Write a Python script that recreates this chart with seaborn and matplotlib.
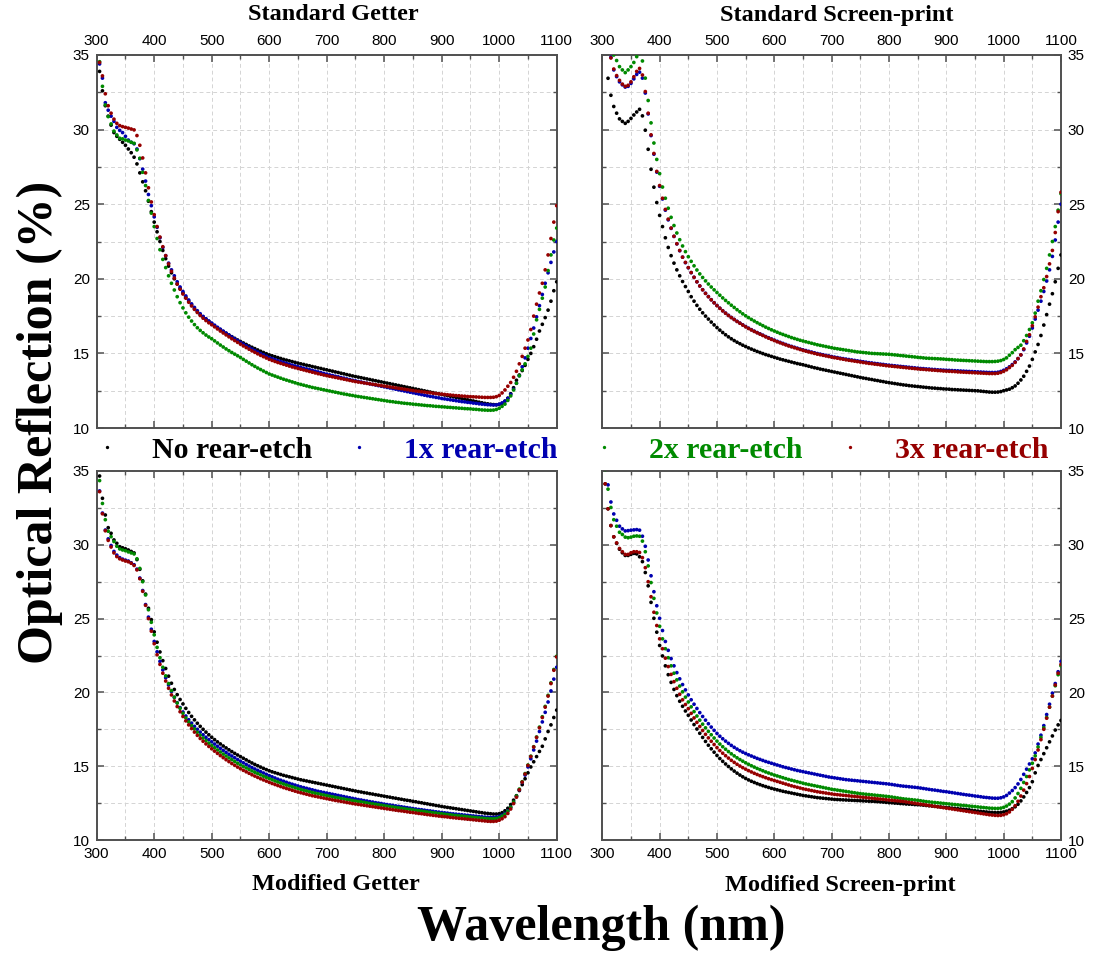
import matplotlib
matplotlib.use("Agg")
import matplotlib.pyplot as plt
import pandas as pd
import seaborn as sns
from matplotlib.ticker import MultipleLocator
from matplotlib.lines import Line2D

# ---------------- data ----------------
wavelength = list(range(305, 1101, 5))  # nm, 160 points
series_labels = ["No rear-etch", "1x rear-etch", "2x rear-etch", "3x rear-etch"]
series_colors = ["#000000", "#0000b0", "#008a00", "#960000"]
panel_titles = ["Standard Getter", "Standard Screen-print", "Modified Getter", "Modified Screen-print"]
x_ticks = [300, 400, 500, 600, 700, 800, 900, 1000, 1100]
y_ticks = [10, 15, 20, 25, 30, 35]

# Standard Getter
sg_none = [33.9, 32.6, 31.6, 30.9, 30.3, 29.8, 29.55, 29.35, 29.15, 28.95,
           28.7, 28.45, 28.15, 27.7, 27.1, 26.5, 25.9, 25.2, 24.5, 23.8,
           23.15, 22.5, 21.9, 21.35, 20.85, 20.4, 20.0, 19.65, 19.35, 19.05,
           18.75, 18.5, 18.25, 18.0, 17.8, 17.6, 17.45, 17.3, 17.15, 17.0,
           16.85, 16.72, 16.6, 16.47, 16.35, 16.23, 16.12, 16.01, 15.9, 15.8,
           15.7, 15.6, 15.5, 15.41, 15.32, 15.23, 15.14, 15.06, 14.98, 14.9,
           14.84, 14.78, 14.72, 14.66, 14.6, 14.55, 14.5, 14.45, 14.4, 14.35,
           14.3, 14.26, 14.21, 14.17, 14.12, 14.08, 14.03, 13.99, 13.94, 13.9,
           13.85, 13.81, 13.76, 13.72, 13.67, 13.63, 13.58, 13.54, 13.49, 13.45,
           13.41, 13.37, 13.33, 13.29, 13.25, 13.21, 13.17, 13.13, 13.09, 13.05,
           13.01, 12.97, 12.93, 12.89, 12.85, 12.81, 12.77, 12.73, 12.69, 12.65,
           12.61, 12.57, 12.53, 12.49, 12.45, 12.41, 12.37, 12.33, 12.29, 12.25,
           12.21, 12.17, 12.13, 12.09, 12.05, 12.01, 11.97, 11.93, 11.89, 11.85,
           11.81, 11.77, 11.73, 11.69, 11.65, 11.62, 11.59, 11.57, 11.56, 11.58,
           11.65, 11.8, 12.0, 12.3, 12.7, 13.2, 13.55, 13.85, 14.2, 14.6,
           15.0, 15.45, 15.95, 16.5, 16.95, 17.4, 17.9, 18.5, 19.2, 19.8]
sg_1x = [34.4, 33.45, 31.8, 31.3, 30.9, 30.55, 30.15, 29.95, 29.8, 29.55,
         29.3, 29.15, 29.05, 28.7, 28.05, 27.35, 26.55, 25.65, 24.9, 24.15,
         23.45, 22.75, 22.1, 21.55, 21.05, 20.6, 20.2, 19.8, 19.45, 19.15,
         18.85, 18.58, 18.32, 18.08, 17.86, 17.66, 17.48, 17.32, 17.17, 17.03,
         16.89, 16.75, 16.62, 16.49, 16.36, 16.23, 16.1, 15.98, 15.86, 15.74,
         15.62, 15.51, 15.4, 15.29, 15.19, 15.09, 14.99, 14.9, 14.81, 14.72,
         14.65, 14.58, 14.51, 14.45, 14.39, 14.33, 14.27, 14.21, 14.16, 14.11,
         14.06, 14.01, 13.96, 13.91, 13.86, 13.81, 13.76, 13.71, 13.66, 13.61,
         13.56, 13.52, 13.47, 13.43, 13.38, 13.34, 13.29, 13.25, 13.2, 13.16,
         13.12, 13.08, 13.04, 13.0, 12.96, 12.92, 12.88, 12.84, 12.8, 12.76,
         12.72, 12.68, 12.64, 12.6, 12.56, 12.52, 12.48, 12.44, 12.4, 12.36,
         12.32, 12.28, 12.24, 12.2, 12.16, 12.12, 12.09, 12.05, 12.02, 11.98,
         11.95, 11.92, 11.89, 11.86, 11.83, 11.8, 11.77, 11.75, 11.72, 11.7,
         11.67, 11.65, 11.62, 11.6, 11.58, 11.56, 11.55, 11.54, 11.55, 11.6,
         11.68, 11.8, 11.98, 12.25, 12.6, 13.0, 13.5, 14.1, 14.7, 15.35,
         16.0, 16.7, 17.45, 18.2, 18.95, 19.7, 20.4, 21.1, 21.8, 22.5]
sg_2x = [34.55, 32.9, 31.65, 30.87, 30.38, 29.9, 29.64, 29.42, 29.38, 29.3,
         29.24, 29.15, 29.08, 28.64, 28.08, 27.14, 26.25, 25.25, 24.4, 23.5,
         22.7, 21.95, 21.3, 20.75, 20.2, 19.7, 19.25, 18.8, 18.4, 18.05,
         17.72, 17.43, 17.17, 16.93, 16.72, 16.54, 16.38, 16.23, 16.1, 15.98,
         15.84, 15.7, 15.56, 15.43, 15.3, 15.18, 15.06, 14.95, 14.84, 14.73,
         14.6, 14.48, 14.36, 14.24, 14.13, 14.02, 13.92, 13.82, 13.72, 13.62,
         13.55, 13.48, 13.41, 13.34, 13.27, 13.21, 13.15, 13.09, 13.03, 12.97,
         12.92, 12.87, 12.82, 12.77, 12.72, 12.68, 12.64, 12.6, 12.56, 12.52,
         12.48, 12.44, 12.4, 12.36, 12.32, 12.28, 12.25, 12.21, 12.18, 12.14,
         12.11, 12.08, 12.05, 12.02, 11.99, 11.96, 11.93, 11.9, 11.87, 11.84,
         11.81, 11.78, 11.76, 11.73, 11.71, 11.68, 11.66, 11.64, 11.62, 11.6,
         11.58, 11.56, 11.54, 11.52, 11.5, 11.49, 11.47, 11.45, 11.44, 11.42,
         11.41, 11.39, 11.38, 11.36, 11.35, 11.33, 11.32, 11.3, 11.29, 11.28,
         11.26, 11.25, 11.23, 11.21, 11.2, 11.19, 11.19, 11.2, 11.24, 11.32,
         11.45, 11.6, 11.85, 12.15, 12.55, 13.0, 13.5, 13.9, 14.3, 14.8,
         15.35, 16.3, 17.25, 17.95, 18.7, 19.45, 20.55, 21.6, 22.6, 23.4]
sg_3x = [34.5, 33.6, 32.4, 31.6, 31.1, 30.7, 30.42, 30.27, 30.2, 30.15,
         30.1, 30.04, 29.98, 29.6, 28.95, 28.1, 27.1, 26.1, 25.15, 24.3,
         23.5, 22.8, 22.15, 21.55, 21.0, 20.5, 20.05, 19.65, 19.3, 18.98,
         18.7, 18.43, 18.18, 17.95, 17.74, 17.54, 17.36, 17.2, 17.05, 16.92,
         16.78, 16.64, 16.5, 16.37, 16.24, 16.11, 15.98, 15.86, 15.74, 15.62,
         15.5, 15.39, 15.28, 15.17, 15.07, 14.97, 14.87, 14.78, 14.69, 14.6,
         14.53, 14.46, 14.39, 14.33, 14.27, 14.21, 14.15, 14.09, 14.04, 13.99,
         13.94, 13.89, 13.84, 13.79, 13.74, 13.69, 13.64, 13.6, 13.55, 13.51,
         13.47, 13.43, 13.39, 13.35, 13.31, 13.27, 13.23, 13.19, 13.15, 13.11,
         13.08, 13.05, 13.02, 12.99, 12.96, 12.93, 12.9, 12.87, 12.84, 12.81,
         12.78, 12.75, 12.72, 12.69, 12.66, 12.63, 12.6, 12.57, 12.54, 12.51,
         12.48, 12.46, 12.43, 12.41, 12.38, 12.36, 12.33, 12.31, 12.29, 12.27,
         12.25, 12.23, 12.21, 12.19, 12.17, 12.16, 12.14, 12.13, 12.11, 12.1,
         12.09, 12.08, 12.07, 12.06, 12.05, 12.05, 12.05, 12.06, 12.1, 12.18,
         12.35, 12.55, 12.8, 13.05, 13.4, 13.8, 14.3, 14.8, 15.35, 15.9,
         16.6, 17.5, 18.3, 19.05, 19.7, 20.6, 21.6, 22.7, 23.8, 24.9]

# Standard Screen-print
ss_none = [35.3, 33.44, 32.3, 31.55, 31.1, 30.72, 30.55, 30.42, 30.55, 30.75,
           30.98, 31.18, 31.36, 30.92, 29.96, 28.68, 27.34, 26.14, 25.11, 24.25,
           23.5, 22.75, 22.1, 21.55, 21.05, 20.6, 20.2, 19.82, 19.48, 19.15,
           18.8, 18.5, 18.22, 17.96, 17.72, 17.5, 17.3, 17.1, 16.91, 16.73,
           16.56, 16.4, 16.25, 16.11, 15.98, 15.86, 15.75, 15.65, 15.55, 15.46,
           15.37, 15.29, 15.21, 15.13, 15.06, 14.99, 14.92, 14.86, 14.8, 14.74,
           14.68, 14.62, 14.57, 14.52, 14.47, 14.42, 14.37, 14.32, 14.28, 14.24,
           14.19, 14.14, 14.09, 14.04, 14.0, 13.95, 13.91, 13.87, 13.83, 13.79,
           13.75, 13.71, 13.67, 13.63, 13.59, 13.55, 13.51, 13.47, 13.43, 13.39,
           13.35, 13.32, 13.28, 13.25, 13.21, 13.18, 13.14, 13.11, 13.07, 13.04,
           13.01, 12.98, 12.95, 12.92, 12.89, 12.87, 12.84, 12.82, 12.8, 12.78,
           12.76, 12.74, 12.72, 12.7, 12.68, 12.67, 12.65, 12.64, 12.62, 12.61,
           12.6, 12.58, 12.57, 12.56, 12.55, 12.54, 12.53, 12.52, 12.51, 12.5,
           12.49, 12.47, 12.45, 12.43, 12.41, 12.4, 12.4, 12.41, 12.44, 12.5,
           12.55, 12.6, 12.7, 12.82, 13.0, 13.22, 13.47, 13.8, 14.15, 14.6,
           15.1, 15.6, 16.2, 16.9, 17.6, 18.3, 19.0, 19.8, 20.7, 21.6]
ss_1x = [36.3, 35.5, 34.85, 34.0, 33.55, 33.2, 33.0, 32.85, 32.9, 33.1,
         33.4, 33.7, 33.85, 33.45, 32.45, 31.05, 29.6, 28.35, 27.15, 26.2,
         25.35, 24.6, 23.95, 23.38, 22.84, 22.34, 21.88, 21.45, 21.08, 20.74,
         20.41, 20.1, 19.8, 19.52, 19.27, 19.03, 18.81, 18.6, 18.4, 18.21,
         18.03, 17.86, 17.7, 17.55, 17.41, 17.28, 17.15, 17.03, 16.91, 16.8,
         16.69, 16.59, 16.49, 16.4, 16.31, 16.22, 16.13, 16.05, 15.97, 15.89,
         15.81, 15.74, 15.67, 15.6, 15.53, 15.47, 15.41, 15.35, 15.29, 15.24,
         15.19, 15.14, 15.09, 15.04, 14.99, 14.95, 14.91, 14.87, 14.83, 14.79,
         14.75, 14.72, 14.68, 14.65, 14.62, 14.59, 14.56, 14.53, 14.5, 14.47,
         14.44, 14.41, 14.38, 14.36, 14.33, 14.31, 14.28, 14.26, 14.23, 14.21,
         14.19, 14.17, 14.15, 14.13, 14.11, 14.09, 14.07, 14.05, 14.03, 14.01,
         13.99, 13.98, 13.96, 13.95, 13.93, 13.92, 13.9, 13.89, 13.88, 13.87,
         13.86, 13.85, 13.84, 13.83, 13.82, 13.81, 13.8, 13.79, 13.78, 13.77,
         13.76, 13.75, 13.74, 13.73, 13.72, 13.72, 13.72, 13.74, 13.79, 13.87,
         13.97, 14.1, 14.25, 14.43, 14.65, 14.9, 15.25, 15.7, 16.15, 16.7,
         17.3, 17.9, 18.5, 19.15, 19.85, 20.6, 21.5, 22.6, 23.8, 25.0]
ss_2x = [37.0, 36.2, 35.5, 35.0, 34.63, 34.22, 34.0, 33.82, 34.0, 34.22,
         34.5, 34.89, 35.1, 34.6, 33.45, 31.95, 30.45, 29.1, 28.0, 27.05,
         26.15, 25.4, 24.73, 24.12, 23.57, 23.07, 22.62, 22.2, 21.82, 21.48,
         21.17, 20.87, 20.59, 20.33, 20.09, 19.86, 19.65, 19.45, 19.26, 19.08,
         18.9, 18.72, 18.55, 18.39, 18.23, 18.08, 17.93, 17.79, 17.65, 17.52,
         17.4, 17.28, 17.17, 17.06, 16.96, 16.86, 16.76, 16.67, 16.58, 16.5,
         16.42, 16.34, 16.27, 16.2, 16.13, 16.06, 16.0, 15.94, 15.88, 15.83,
         15.78, 15.73, 15.68, 15.63, 15.58, 15.54, 15.5, 15.46, 15.42, 15.38,
         15.34, 15.31, 15.28, 15.25, 15.22, 15.19, 15.16, 15.13, 15.1, 15.08,
         15.06, 15.04, 15.02, 15.0, 14.99, 14.98, 14.97, 14.96, 14.95, 14.94,
         14.92, 14.9, 14.88, 14.86, 14.84, 14.82, 14.8, 14.78, 14.76, 14.74,
         14.72, 14.7, 14.68, 14.67, 14.66, 14.65, 14.64, 14.63, 14.62, 14.6,
         14.59, 14.58, 14.56, 14.55, 14.54, 14.53, 14.52, 14.51, 14.5, 14.49,
         14.48, 14.47, 14.46, 14.45, 14.45, 14.45, 14.46, 14.48, 14.52, 14.59,
         14.7, 14.88, 15.05, 15.25, 15.4, 15.55, 15.85, 16.2, 16.6, 17.05,
         17.7, 18.5, 19.2, 19.95, 20.7, 21.6, 22.5, 23.5, 24.6, 25.7]
ss_3x = [36.5, 35.6, 34.8, 34.06, 33.62, 33.3, 33.05, 32.9, 32.97, 33.2,
         33.54, 33.9, 34.1, 33.66, 32.55, 31.1, 29.65, 28.4, 27.2, 26.25,
         25.4, 24.65, 24.0, 23.4, 22.85, 22.35, 21.9, 21.45, 21.1, 20.75,
         20.42, 20.1, 19.8, 19.52, 19.26, 19.02, 18.8, 18.59, 18.39, 18.2,
         18.02, 17.85, 17.69, 17.54, 17.4, 17.27, 17.14, 17.02, 16.9, 16.78,
         16.67, 16.57, 16.47, 16.38, 16.29, 16.2, 16.11, 16.02, 15.94, 15.86,
         15.78, 15.71, 15.64, 15.57, 15.5, 15.44, 15.38, 15.32, 15.26, 15.2,
         15.15, 15.1, 15.05, 15.0, 14.95, 14.91, 14.87, 14.83, 14.79, 14.75,
         14.71, 14.68, 14.64, 14.61, 14.57, 14.54, 14.51, 14.48, 14.45, 14.42,
         14.39, 14.36, 14.33, 14.31, 14.28, 14.26, 14.23, 14.21, 14.18, 14.16,
         14.14, 14.12, 14.1, 14.08, 14.06, 14.04, 14.02, 14.0, 13.98, 13.96,
         13.94, 13.93, 13.91, 13.9, 13.88, 13.87, 13.85, 13.84, 13.82, 13.81,
         13.8, 13.79, 13.78, 13.76, 13.75, 13.74, 13.73, 13.72, 13.71, 13.7,
         13.69, 13.68, 13.67, 13.66, 13.65, 13.65, 13.65, 13.67, 13.72, 13.8,
         13.9, 14.05, 14.2, 14.4, 14.65, 14.9, 15.3, 15.8, 16.25, 16.85,
         17.45, 18.1, 18.8, 19.4, 20.15, 21.0, 21.9, 23.1, 24.5, 25.8]

# Modified Getter
mg_none = [34.66, 33.15, 32.02, 31.16, 30.78, 30.33, 30.1, 29.87, 29.8, 29.73,
           29.65, 29.55, 29.45, 29.0, 28.34, 27.56, 26.66, 25.7, 24.93, 24.1,
           23.4, 22.74, 22.15, 21.62, 21.1, 20.62, 20.2, 19.85, 19.52, 19.22,
           18.92, 18.64, 18.38, 18.14, 17.91, 17.7, 17.5, 17.31, 17.13, 16.96,
           16.8, 16.65, 16.51, 16.37, 16.24, 16.11, 15.99, 15.87, 15.76, 15.65,
           15.54, 15.43, 15.32, 15.22, 15.12, 15.03, 14.94, 14.85, 14.77, 14.69,
           14.62, 14.56, 14.5, 14.44, 14.38, 14.33, 14.28, 14.23, 14.18, 14.13,
           14.08, 14.04, 14.0, 13.96, 13.92, 13.88, 13.84, 13.8, 13.76, 13.72,
           13.68, 13.64, 13.6, 13.56, 13.52, 13.48, 13.44, 13.4, 13.36, 13.32,
           13.28, 13.25, 13.21, 13.18, 13.14, 13.11, 13.07, 13.04, 13.0, 12.97,
           12.93, 12.9, 12.86, 12.83, 12.79, 12.76, 12.72, 12.69, 12.66, 12.62,
           12.59, 12.55, 12.52, 12.48, 12.45, 12.41, 12.38, 12.34, 12.31, 12.27,
           12.24, 12.21, 12.18, 12.15, 12.12, 12.09, 12.06, 12.03, 12.0, 11.97,
           11.94, 11.91, 11.88, 11.85, 11.82, 11.8, 11.78, 11.76, 11.76, 11.78,
           11.85, 11.98, 12.15, 12.4, 12.7, 13.0, 13.35, 13.75, 14.15, 14.55,
           14.95, 15.3, 15.65, 16.0, 16.35, 16.85, 17.35, 17.8, 18.3, 18.8]
mg_1x = [33.65, 32.15, 31.0, 30.4, 29.95, 29.55, 29.3, 29.13, 29.03, 28.96,
         28.9, 28.78, 28.65, 28.35, 27.75, 26.9, 25.95, 25.1, 24.28, 23.45,
         22.75, 22.1, 21.52, 20.99, 20.5, 20.06, 19.66, 19.3, 18.97, 18.67,
         18.4, 18.15, 17.92, 17.7, 17.5, 17.31, 17.13, 16.96, 16.8, 16.65,
         16.5, 16.35, 16.21, 16.07, 15.94, 15.81, 15.69, 15.57, 15.45, 15.34,
         15.23, 15.12, 15.01, 14.91, 14.81, 14.72, 14.63, 14.54, 14.45, 14.36,
         14.28, 14.2, 14.12, 14.05, 13.98, 13.91, 13.84, 13.78, 13.72, 13.66,
         13.6, 13.55, 13.5, 13.45, 13.4, 13.35, 13.3, 13.26, 13.22, 13.18,
         13.14, 13.1, 13.06, 13.02, 12.98, 12.94, 12.9, 12.86, 12.82, 12.78,
         12.74, 12.71, 12.67, 12.64, 12.6, 12.57, 12.53, 12.5, 12.47, 12.43,
         12.4, 12.37, 12.34, 12.31, 12.28, 12.25, 12.22, 12.19, 12.16, 12.13,
         12.1, 12.07, 12.05, 12.02, 11.99, 11.97, 11.94, 11.91, 11.89, 11.86,
         11.84, 11.82, 11.79, 11.77, 11.75, 11.73, 11.71, 11.69, 11.67, 11.65,
         11.63, 11.61, 11.59, 11.57, 11.55, 11.54, 11.53, 11.53, 11.55, 11.6,
         11.68, 11.8, 11.98, 12.22, 12.55, 12.95, 13.4, 13.9, 14.4, 14.95,
         15.5, 16.1, 16.7, 17.35, 18.0, 18.65, 19.35, 20.1, 20.9, 21.7]
mg_2x = [34.35, 32.8, 31.7, 30.92, 30.55, 30.22, 29.9, 29.72, 29.65, 29.6,
         29.52, 29.45, 29.38, 29.05, 28.4, 27.5, 26.6, 25.6, 24.75, 23.9,
         23.05, 22.35, 21.7, 21.12, 20.6, 20.12, 19.68, 19.28, 18.92, 18.58,
         18.27, 18.0, 17.75, 17.52, 17.3, 17.1, 16.91, 16.73, 16.56, 16.4,
         16.25, 16.1, 15.96, 15.82, 15.69, 15.56, 15.44, 15.32, 15.2, 15.09,
         14.98, 14.88, 14.78, 14.68, 14.59, 14.5, 14.41, 14.32, 14.24, 14.16,
         14.08, 14.0, 13.93, 13.86, 13.79, 13.72, 13.66, 13.6, 13.54, 13.48,
         13.42, 13.37, 13.32, 13.27, 13.22, 13.17, 13.13, 13.09, 13.05, 13.01,
         12.97, 12.93, 12.89, 12.85, 12.81, 12.78, 12.74, 12.71, 12.67, 12.64,
         12.61, 12.58, 12.55, 12.51, 12.48, 12.45, 12.42, 12.39, 12.36, 12.33,
         12.3, 12.27, 12.24, 12.21, 12.18, 12.15, 12.12, 12.09, 12.07, 12.04,
         12.01, 11.98, 11.96, 11.93, 11.9, 11.88, 11.85, 11.83, 11.8, 11.78,
         11.75, 11.73, 11.71, 11.68, 11.66, 11.64, 11.62, 11.6, 11.58, 11.56,
         11.54, 11.52, 11.5, 11.48, 11.46, 11.45, 11.44, 11.44, 11.46, 11.52,
         11.62, 11.75, 11.95, 12.22, 12.57, 12.98, 13.45, 13.95, 14.5, 15.08,
         15.68, 16.32, 16.98, 17.65, 18.35, 19.05, 19.8, 20.65, 21.55, 22.45]
mg_3x = [33.6, 32.1, 30.95, 30.3, 29.85, 29.45, 29.2, 29.05, 28.97, 28.9,
         28.85, 28.75, 28.6, 28.3, 27.7, 26.85, 25.9, 25.0, 24.15, 23.3,
         22.55, 21.9, 21.3, 20.77, 20.28, 19.83, 19.42, 19.04, 18.69, 18.37,
         18.07, 17.8, 17.55, 17.31, 17.09, 16.88, 16.69, 16.51, 16.34, 16.18,
         16.02, 15.87, 15.72, 15.58, 15.44, 15.31, 15.18, 15.06, 14.94, 14.83,
         14.72, 14.62, 14.52, 14.42, 14.33, 14.24, 14.15, 14.07, 13.99, 13.91,
         13.83, 13.76, 13.69, 13.62, 13.55, 13.49, 13.43, 13.37, 13.31, 13.25,
         13.2, 13.15, 13.1, 13.05, 13.0, 12.96, 12.92, 12.88, 12.84, 12.8,
         12.76, 12.72, 12.68, 12.65, 12.61, 12.58, 12.54, 12.51, 12.47, 12.44,
         12.41, 12.38, 12.35, 12.32, 12.29, 12.26, 12.23, 12.2, 12.17, 12.14,
         12.11, 12.08, 12.05, 12.02, 11.99, 11.97, 11.94, 11.91, 11.88, 11.86,
         11.83, 11.8, 11.78, 11.75, 11.72, 11.7, 11.67, 11.65, 11.62, 11.6,
         11.58, 11.56, 11.53, 11.51, 11.49, 11.47, 11.45, 11.43, 11.41, 11.39,
         11.37, 11.35, 11.33, 11.31, 11.29, 11.27, 11.26, 11.26, 11.28, 11.34,
         11.44, 11.58, 11.8, 12.1, 12.47, 12.9, 13.4, 13.92, 14.47, 15.05,
         15.65, 16.3, 16.95, 17.6, 18.3, 19.0, 19.75, 20.6, 21.5, 22.4]

# Modified Screen-print
ms_none = [34.13, 32.44, 31.3, 30.54, 30.1, 29.7, 29.46, 29.28, 29.28, 29.35,
           29.42, 29.38, 29.19, 28.86, 28.12, 27.22, 26.1, 25.02, 24.08, 23.18,
           22.47, 21.8, 21.2, 20.68, 20.2, 19.78, 19.4, 19.06, 18.74, 18.45,
           18.13, 17.82, 17.52, 17.23, 16.95, 16.68, 16.42, 16.18, 15.95, 15.73,
           15.52, 15.33, 15.15, 14.98, 14.82, 14.67, 14.53, 14.4, 14.28, 14.17,
           14.07, 13.98, 13.9, 13.82, 13.75, 13.68, 13.62, 13.56, 13.5, 13.45,
           13.4, 13.35, 13.3, 13.26, 13.22, 13.18, 13.14, 13.1, 13.06, 13.02,
           12.99, 12.96, 12.93, 12.9, 12.87, 12.85, 12.83, 12.81, 12.79, 12.77,
           12.75, 12.74, 12.73, 12.72, 12.71, 12.7, 12.69, 12.68, 12.67, 12.66,
           12.65, 12.64, 12.63, 12.62, 12.61, 12.6, 12.58, 12.57, 12.55, 12.53,
           12.52, 12.5, 12.49, 12.47, 12.46, 12.44, 12.43, 12.42, 12.4, 12.39,
           12.38, 12.36, 12.34, 12.32, 12.3, 12.28, 12.26, 12.24, 12.22, 12.2,
           12.18, 12.16, 12.14, 12.12, 12.1, 12.08, 12.06, 12.04, 12.01, 11.98,
           11.96, 11.94, 11.92, 11.9, 11.88, 11.87, 11.86, 11.86, 11.87, 11.9,
           11.95, 12.02, 12.12, 12.25, 12.42, 12.65, 12.92, 13.22, 13.55, 13.95,
           14.55, 15.05, 15.45, 15.85, 16.25, 16.65, 17.05, 17.45, 17.8, 18.1]
ms_1x = [35.4, 34.06, 32.9, 32.09, 31.66, 31.26, 31.08, 30.94, 30.96, 30.99,
         31.01, 31.03, 30.99, 30.58, 29.9, 28.97, 27.9, 26.82, 25.87, 25.02,
         24.19, 23.45, 22.85, 22.29, 21.8, 21.34, 20.92, 20.53, 20.17, 19.83,
         19.5, 19.2, 18.91, 18.63, 18.37, 18.12, 17.88, 17.65, 17.43, 17.22,
         17.03, 16.86, 16.7, 16.55, 16.41, 16.28, 16.16, 16.05, 15.95, 15.86,
         15.77, 15.69, 15.61, 15.53, 15.46, 15.39, 15.32, 15.26, 15.2, 15.14,
         15.08, 15.02, 14.96, 14.91, 14.86, 14.81, 14.76, 14.71, 14.67, 14.63,
         14.59, 14.55, 14.51, 14.47, 14.43, 14.39, 14.35, 14.31, 14.27, 14.24,
         14.21, 14.18, 14.15, 14.12, 14.09, 14.07, 14.05, 14.03, 14.01, 13.99,
         13.97, 13.95, 13.93, 13.91, 13.89, 13.87, 13.85, 13.83, 13.81, 13.79,
         13.76, 13.73, 13.7, 13.67, 13.65, 13.63, 13.61, 13.59, 13.57, 13.55,
         13.52, 13.49, 13.46, 13.43, 13.4, 13.38, 13.35, 13.32, 13.29, 13.27,
         13.24, 13.21, 13.18, 13.15, 13.12, 13.09, 13.06, 13.04, 13.01, 12.98,
         12.96, 12.93, 12.9, 12.88, 12.86, 12.84, 12.83, 12.83, 12.86, 12.92,
         13.02, 13.18, 13.35, 13.55, 13.8, 14.1, 14.45, 14.8, 15.15, 15.5,
         15.9, 16.5, 17.1, 17.75, 18.5, 19.2, 19.95, 20.6, 21.4, 22.1]
ms_2x = [35.1, 33.77, 32.53, 31.7, 31.26, 30.85, 30.7, 30.52, 30.48, 30.52,
         30.58, 30.6, 30.58, 30.25, 29.53, 28.57, 27.44, 26.37, 25.38, 24.48,
         23.63, 22.96, 22.35, 21.8, 21.3, 20.85, 20.43, 20.04, 19.68, 19.35,
         19.02, 18.7, 18.4, 18.12, 17.85, 17.6, 17.36, 17.13, 16.91, 16.7,
         16.5, 16.32, 16.15, 15.99, 15.84, 15.7, 15.57, 15.45, 15.34, 15.23,
         15.13, 15.03, 14.94, 14.85, 14.77, 14.69, 14.61, 14.54, 14.47, 14.4,
         14.34, 14.28, 14.22, 14.16, 14.1, 14.05, 14.0, 13.95, 13.9, 13.85,
         13.8, 13.76, 13.72, 13.68, 13.64, 13.6, 13.56, 13.52, 13.48, 13.44,
         13.41, 13.38, 13.35, 13.32, 13.29, 13.26, 13.23, 13.2, 13.17, 13.14,
         13.12, 13.1, 13.08, 13.06, 13.04, 13.02, 13.0, 12.98, 12.96, 12.94,
         12.91, 12.88, 12.85, 12.82, 12.79, 12.77, 12.75, 12.73, 12.71, 12.69,
         12.66, 12.63, 12.6, 12.58, 12.56, 12.54, 12.52, 12.5, 12.48, 12.46,
         12.44, 12.42, 12.4, 12.38, 12.36, 12.34, 12.32, 12.3, 12.28, 12.26,
         12.24, 12.22, 12.2, 12.18, 12.16, 12.15, 12.14, 12.14, 12.16, 12.21,
         12.3, 12.43, 12.6, 12.85, 13.15, 13.5, 13.9, 14.3, 14.75, 15.2,
         15.7, 16.3, 16.95, 17.6, 18.3, 19.0, 19.75, 20.45, 21.2, 21.8]
ms_3x = [34.13, 32.44, 31.3, 30.54, 30.13, 29.75, 29.53, 29.35, 29.35, 29.46,
         29.53, 29.53, 29.48, 29.13, 28.45, 27.5, 26.48, 25.43, 24.53, 23.63,
         22.96, 22.32, 21.75, 21.22, 20.73, 20.28, 19.87, 19.5, 19.18, 18.9,
         18.58, 18.27, 17.97, 17.69, 17.42, 17.16, 16.92, 16.69, 16.47, 16.26,
         16.06, 15.88, 15.71, 15.55, 15.4, 15.26, 15.13, 15.01, 14.9, 14.8,
         14.7, 14.61, 14.52, 14.44, 14.36, 14.29, 14.22, 14.15, 14.09, 14.03,
         13.97, 13.91, 13.85, 13.79, 13.73, 13.67, 13.62, 13.57, 13.52, 13.47,
         13.43, 13.39, 13.35, 13.31, 13.27, 13.24, 13.21, 13.18, 13.15, 13.12,
         13.09, 13.07, 13.05, 13.03, 13.01, 12.99, 12.97, 12.95, 12.93, 12.91,
         12.89, 12.87, 12.85, 12.83, 12.81, 12.79, 12.77, 12.75, 12.73, 12.71,
         12.69, 12.67, 12.65, 12.63, 12.61, 12.58, 12.55, 12.52, 12.49, 12.46,
         12.43, 12.4, 12.37, 12.34, 12.31, 12.28, 12.25, 12.22, 12.19, 12.16,
         12.13, 12.1, 12.07, 12.04, 12.01, 11.98, 11.95, 11.92, 11.89, 11.86,
         11.83, 11.8, 11.77, 11.74, 11.71, 11.69, 11.67, 11.66, 11.67, 11.71,
         11.78, 11.9, 12.08, 12.32, 12.62, 12.98, 13.38, 13.82, 14.3, 14.85,
         15.45, 16.1, 16.8, 17.5, 18.25, 19.0, 19.75, 20.5, 21.3, 21.9]

panels = [
    [sg_none, sg_1x, sg_2x, sg_3x],
    [ss_none, ss_1x, ss_2x, ss_3x],
    [mg_none, mg_1x, mg_2x, mg_3x],
    [ms_none, ms_1x, ms_2x, ms_3x],
]

# ---------------- style ----------------
sns.set_theme(style="white")
plt.rcParams["font.family"] = ["Liberation Sans", "DejaVu Sans"]
plt.rcParams["text.color"] = "black"

W, H = 1094, 959
fig = plt.figure(figsize=(W / 100, H / 100), dpi=100)

def fx(px):
    return px / W

def fy(py):
    return 1 - py / H

axes_rects = [
    [fx(96.7), fy(428), fx(460), 373 / H],
    [fx(602.3), fy(428), fx(458.7), 373 / H],
    [fx(96.7), fy(840), fx(460), 369 / H],
    [fx(602.3), fy(840), fx(458.7), 369 / H],
]
label_sides = [
    dict(labeltop=True, labelbottom=False, labelleft=True, labelright=False),
    dict(labeltop=True, labelbottom=False, labelleft=False, labelright=True),
    dict(labeltop=False, labelbottom=True, labelleft=True, labelright=False),
    dict(labeltop=False, labelbottom=True, labelleft=False, labelright=True),
]

palette = dict(zip(series_labels, series_colors))
spine_col = "#505050"
serif = ["Liberation Serif", "DejaVu Serif"]

for i, (rect, values) in enumerate(zip(axes_rects, panels)):
    ax = fig.add_axes(rect)
    df = pd.DataFrame({
        "Wavelength": wavelength * 4,
        "Reflection": [v for s in values for v in s],
        "Series": [lab for lab in series_labels for _ in wavelength],
    })
    sns.scatterplot(data=df, x="Wavelength", y="Reflection", hue="Series",
                    hue_order=series_labels, palette=palette, s=7,
                    linewidth=0, edgecolor="none", ax=ax, legend=False, zorder=3)
    ax.set_xlim(300, 1100)
    ax.set_ylim(10, 35)
    ax.set_xticks(x_ticks)
    ax.set_yticks(y_ticks)
    ax.xaxis.set_minor_locator(MultipleLocator(50))
    ax.yaxis.set_minor_locator(MultipleLocator(2.5))
    ax.set_xlabel("")
    ax.set_ylabel("")
    ax.grid(which="both", linestyle=(0, (4, 3)), color="#d4d4d4", linewidth=0.7)
    ax.set_axisbelow(True)
    for sp in ax.spines.values():
        sp.set_visible(True)
        sp.set_color(spine_col)
        sp.set_linewidth(1.4)
    ax.tick_params(which="both", direction="in", top=True, bottom=True,
                   left=True, right=True, color=spine_col, **label_sides[i])
    ax.tick_params(which="major", length=5, width=1.1, labelsize=11,
                   labelcolor="black")
    ax.tick_params(which="minor", length=2.8, width=1.0)
    ax.tick_params(axis="x", which="major", pad=5)
    ax.tick_params(axis="y", which="major", pad=5)

# panel titles
title_pos = [(333, 15), (837, 15), (336, 885), (840, 885)]
for t, (px, py) in zip(panel_titles, title_pos):
    fig.text(fx(px), fy(py), t, ha="center", va="center", fontsize=17.5,
             fontweight="bold", family=serif, color="black")

# axis labels
fig.text(fx(601), fy(928), "Wavelength (nm)", ha="center", va="center",
         fontsize=36, fontweight="bold", family=serif, color="black")
fig.text(fx(40), fy(422), "Optical Reflection (%)", ha="center", va="center",
         rotation=90, fontsize=36, fontweight="bold", family=serif, color="black")

# legend
handles = [Line2D([0], [0], marker="o", linestyle="none", color=c,
                  markersize=2.4, markeredgewidth=0) for c in series_colors]
leg = fig.legend(handles, series_labels, loc="center",
                 bbox_to_anchor=(fx(570), fy(450)), ncol=4, frameon=False,
                 prop=dict(family=serif, weight="bold", size=21.5),
                 handlelength=1.0, handletextpad=1.0, columnspacing=1.08,
                 borderaxespad=0, borderpad=0)
for txt, c in zip(leg.get_texts(), series_colors):
    txt.set_color(c)

fig.savefig("out.png", dpi=100)
